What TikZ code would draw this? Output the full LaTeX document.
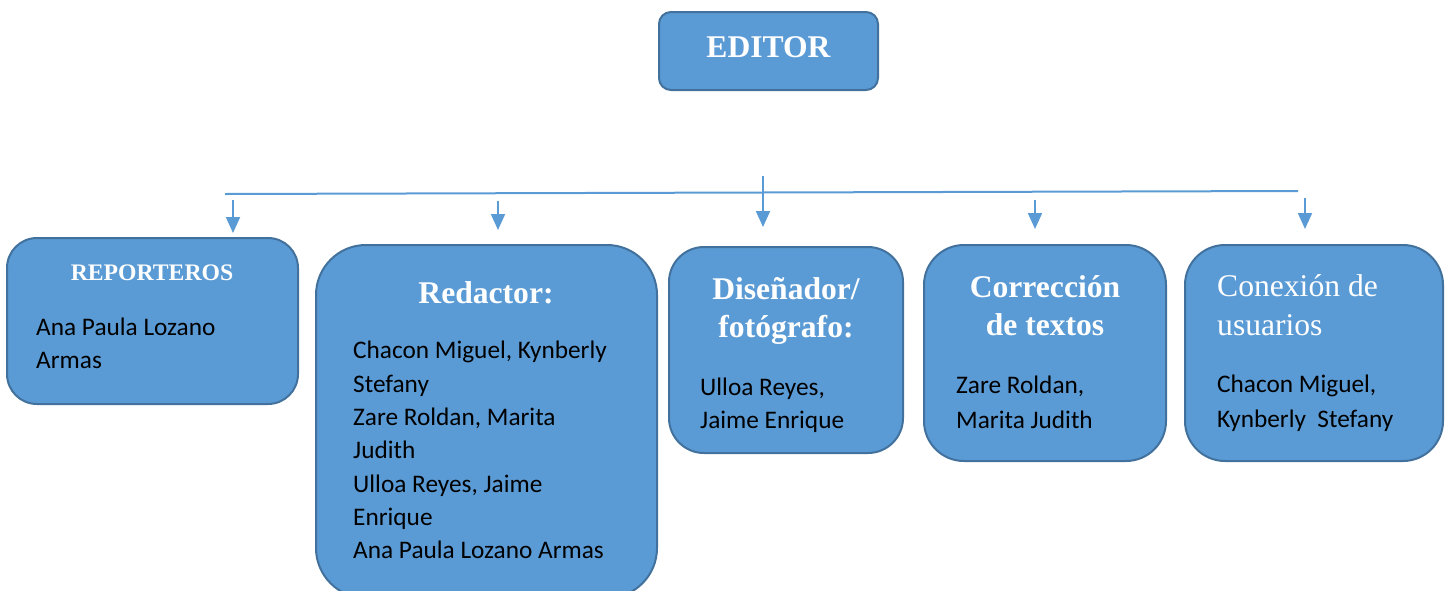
\documentclass[tikz,border=0pt]{standalone}
\usepackage{fontspec}
\setmainfont{Liberation Serif}
\newfontfamily\bodyfont{Carlito}
\usetikzlibrary{arrows.meta}
\definecolor{boxfill}{HTML}{5B9BD5}
\definecolor{boxline}{HTML}{41719C}
\tikzset{
  box/.style={draw=boxline, line width=2pt, fill=boxfill, rectangle, inner sep=0pt},
  head/.style={text=white, font=\fontsize{31.6}{38}\selectfont\bfseries, inner sep=0pt, anchor=base},
  headreg/.style={text=white, font=\fontsize{31.6}{38}\selectfont, inner sep=0pt, anchor=base west},
  body/.style={font=\bodyfont\fontsize{25.3}{33.5}\selectfont, inner sep=0pt, text=black, anchor=base west},
  conn/.style={draw=boxfill, line width=2pt},
  arr/.style={conn, -{Triangle[width=14pt,length=16pt]}}
}
\begin{document}
\begin{tikzpicture}[x=1pt,y=-1pt]
\useasboundingbox (0,0) rectangle (1450,590);
\clip (0,0) rectangle (1450,590);
% boxes
\node[box, minimum width=219pt, minimum height=78pt, rounded corners=12pt] (editor) at (768.5,51) {};
\node[box, minimum width=291pt, minimum height=166pt, rounded corners=30pt] (rep) at (152.5,321) {};
\node[box, minimum width=341pt, minimum height=353pt, rounded corners=50pt] (red) at (486.5,421.5) {};
\node[box, minimum width=234pt, minimum height=206pt, rounded corners=35pt] (dis) at (786,350) {};
\node[box, minimum width=242pt, minimum height=216pt, rounded corners=40pt] (cor) at (1045,353) {};
\node[box, minimum width=258pt, minimum height=216pt, rounded corners=40pt] (con) at (1314,353) {};
% headings
\node[head] (editor-t) at (768.5,57) {EDITOR};
\node[head, font=\fontsize{23.7}{28}\selectfont\bfseries] (rep-t) at (152,280) {REPORTEROS};
\node[head] (red-t) at (486,303) {Redactor:};
\node[head] (dis-t1) at (786,299) {Diseñador/};
\node[head] (dis-t2) at (786,337) {fotógrafo:};
\node[head] (cor-t1) at (1045,297) {Corrección};
\node[head] (cor-t2) at (1045,335) {de textos};
\node[headreg] (con-t1) at (1217,296) {Conexión de};
\node[headreg] (con-t2) at (1217,335) {usuarios};
% body texts
\node[body] (rep-b1) at (36,335) {Ana Paula Lozano};
\node[body] (rep-b2) at (36,368) {Armas};
\node[body] (red-b1) at (353,358) {Chacon Miguel, Kynberly};
\node[body] (red-b2) at (353,392) {Stefany};
\node[body] (red-b3) at (353,425) {Zare Roldan, Marita};
\node[body] (red-b4) at (353,458) {Judith};
\node[body] (red-b5) at (353,492) {Ulloa Reyes, Jaime};
\node[body] (red-b6) at (353,525) {Enrique};
\node[body] (red-b7) at (353,558) {Ana Paula Lozano Armas};
\node[body] (dis-b1) at (700,395) {Ulloa Reyes,};
\node[body] (dis-b2) at (700,428) {Jaime Enrique};
\node[body] (cor-b1) at (956,393) {Zare Roldan,};
\node[body] (cor-b2) at (956,428) {Marita Judith};
\node[body] (con-b1) at (1217,392) {Chacon Miguel,};
\node[body] (con-b2) at (1217,427) {Kynberly\ \ Stefany};
% connectors
\coordinate (hl) at (225,194);
\coordinate (hr) at (1298,191);
\coordinate (tk1) at (763,176);
\coordinate (tk2) at (763,200);
\draw[conn] (hl) -- (hr);
\draw[conn] (tk1) -- (tk2);
\coordinate (a1s) at (233,200); \coordinate (a1e) at (233,233);
\coordinate (a2s) at (498,201); \coordinate (a2e) at (498,230);
\coordinate (a3s) at (763,200); \coordinate (a3e) at (763,227);
\coordinate (a4s) at (1035,200); \coordinate (a4e) at (1035,229);
\coordinate (a5s) at (1305,198); \coordinate (a5e) at (1305,229);
\draw[arr] (a1s) -- (a1e);
\draw[arr] (a2s) -- (a2e);
\draw[arr] (a3s) -- (a3e);
\draw[arr] (a4s) -- (a4e);
\draw[arr] (a5s) -- (a5e);
\end{tikzpicture}
\end{document}
